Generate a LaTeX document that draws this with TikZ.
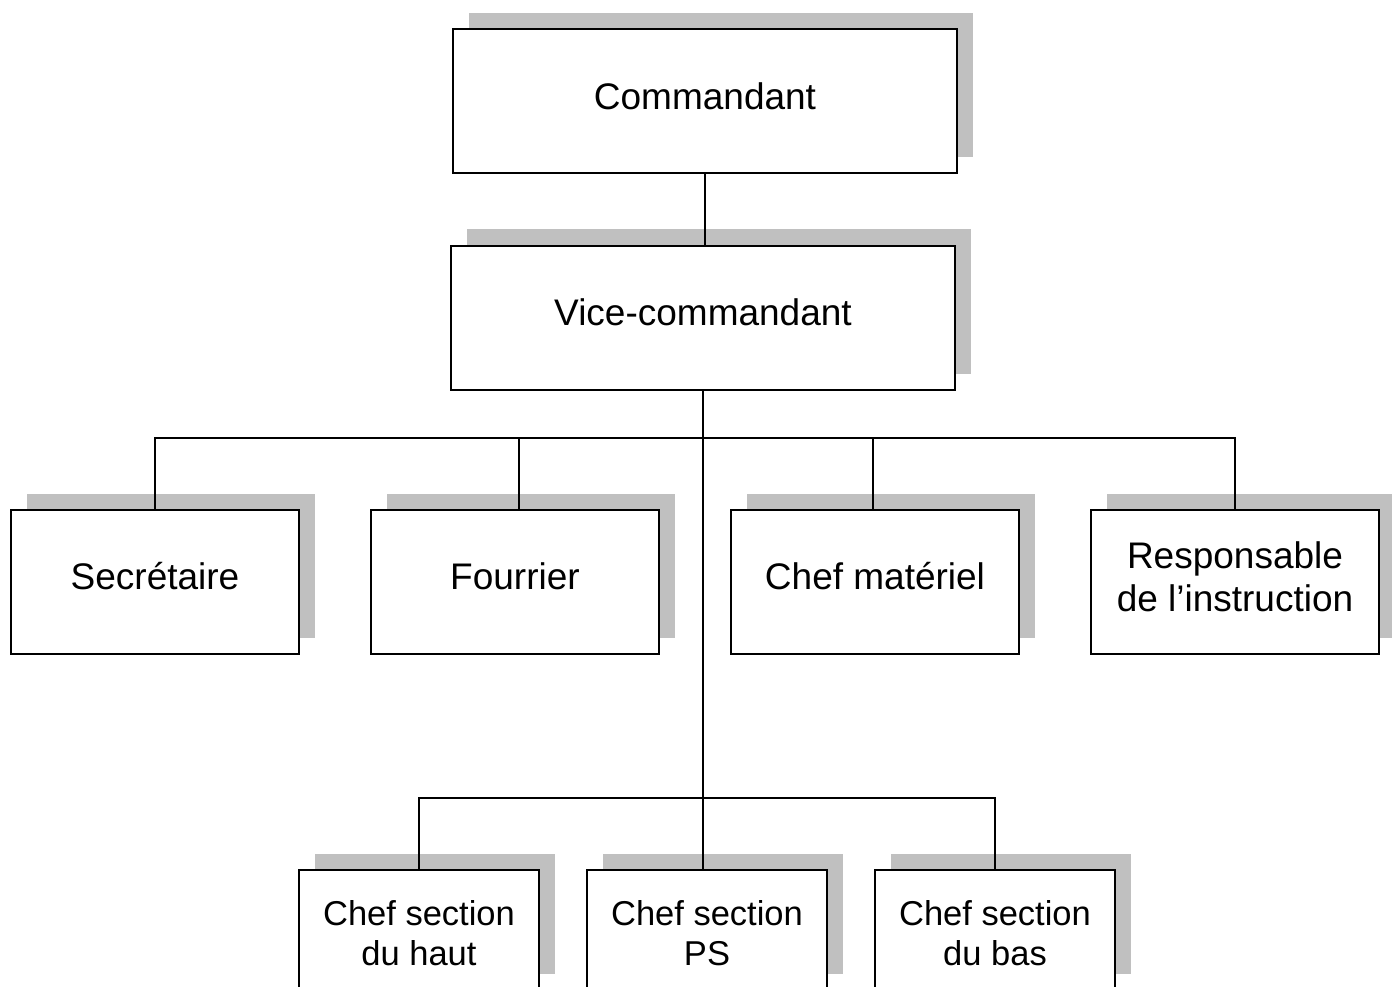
\documentclass[tikz,border=0pt]{standalone}
\usepackage{fontspec}
\setmainfont{Liberation Sans}
\definecolor{shadowgray}{RGB}{192,192,192}
\tikzset{
  box/.style={draw=black, line width=2pt, fill=white, minimum width=#1, minimum height=144pt, inner sep=0pt},
  box/.default=504pt,
  shadowbox/.style={fill=shadowgray, draw=none, minimum width=#1, minimum height=144pt, inner sep=0pt},
  shadowbox/.default=504pt,
  lbl/.style={font=\fontsize{37}{43}\selectfont, align=center, inner sep=0pt},
  slbl/.style={font=\fontsize{34.5}{40}\selectfont, align=center, inner sep=0pt},
  link/.style={line width=2pt},
}
\begin{document}
\begin{tikzpicture}[x=1pt,y=-1pt]
\useasboundingbox (0,0) rectangle (1392,987);
\clip (0,0) rectangle (1392,987);
% top
\node[shadowbox] (cs) at (721,85) {};
\node[box] (c) at (705,101.5) {};
\node[lbl] (ct) at (705,96) {Commandant};
\node[shadowbox] (vs) at (719,301.5) {};
\node[box] (v) at (703,317.5) {};
\node[lbl] (vt) at (703,312) {Vice-commandant};
% row 2
\foreach \n/\x in {s/155, f/515, m/875, r/1235}{
  \node[shadowbox=288pt] (\n s) at (\x+16,566) {};
  \node[box=288pt] (\n) at (\x,582) {};
}
\node[lbl] (st) at (155,576) {Secrétaire};
\node[lbl] (ft) at (515,576) {Fourrier};
\node[lbl] (mt) at (875,576) {Chef matériel};
\node[lbl] (rt) at (1235,577) {Responsable\\de l’instruction};
% row 3
\foreach \n/\x in {h/419, p/707, b/995}{
  \node[shadowbox=240pt, minimum height=120pt] (\n s) at (\x+16,914) {};
  \node[box=240pt, minimum height=120pt] (\n) at (\x,930) {};
}
\node[slbl] (ht) at (419,933) {Chef section\\du haut};
\node[slbl] (pt) at (707,933) {Chef section\\PS};
\node[slbl] (bt) at (995,933) {Chef section\\du bas};
% connectors
\coordinate (j1) at (v.south |- 0,438);
\coordinate (j2) at (v.south |- 0,798);
\coordinate (fj) at (519,438);
\coordinate (mj) at (873,438);
\draw[link] (v.north -| c.south) -- (c.south);
\draw[link] (v.south) -- (j1) -- (j2) -- (j2 |- p.north);
\draw[link] (s.north) |- (j1) -| (r.north);
\draw[link] (fj) -- (fj |- f.north);
\draw[link] (mj) -- (mj |- m.north);
\draw[link] (h.north) |- (j2) -| (b.north);
\end{tikzpicture}
\end{document}
